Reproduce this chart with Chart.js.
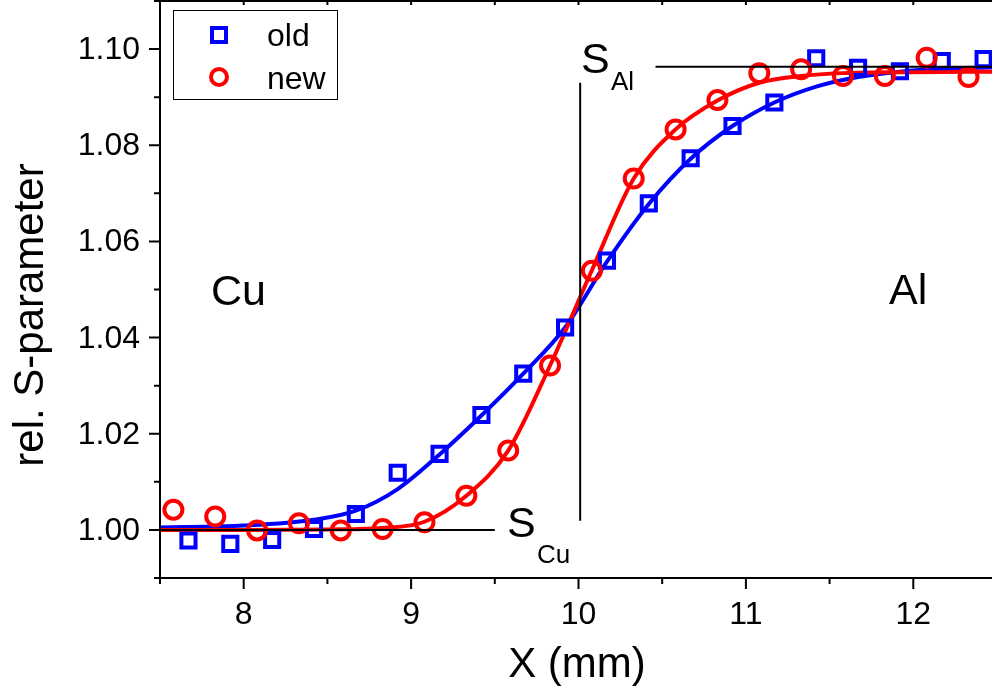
<!DOCTYPE html>
<html>
<head>
<meta charset="utf-8">
<title>rel. S-parameter vs X</title>
<script src="https://cdn.jsdelivr.net/npm/chart.js@4.4.0/dist/chart.umd.min.js"></script>
<style>
  html, body { margin: 0; padding: 0; background: #fff; overflow: hidden; }
  #wrap { width: 1010px; height: 693px; }
</style>
</head>
<body>
<div id="wrap"><canvas id="profile" width="1010" height="693"></canvas></div>
<script>
// measured points, old detector setup
const oldX = [7.67, 7.92, 8.17, 8.42, 8.67, 8.92, 9.17, 9.42, 9.67, 9.92,
              10.17, 10.42, 10.67, 10.92, 11.17, 11.42, 11.67, 11.92, 12.17, 12.42];
const oldS = [0.9978, 0.9971, 0.9979, 1.0002, 1.0033, 1.0119, 1.0158, 1.0239, 1.0325, 1.0421,
              1.0560, 1.0679, 1.0773, 1.0840, 1.0889, 1.0981, 1.0961, 1.0954, 1.0975, 1.0979];

// measured points, new setup
const newX = [7.58, 7.83, 8.08, 8.33, 8.58, 8.83, 9.08, 9.33, 9.58, 9.83,
              10.08, 10.33, 10.58, 10.83, 11.08, 11.33, 11.58, 11.83, 12.08, 12.33];
const newS = [1.0042, 1.0028, 0.9999, 1.0014, 0.9999, 1.0002, 1.0016, 1.0071, 1.0165, 1.0342,
              1.0539, 1.0731, 1.0833, 1.0894, 1.0950, 1.0958, 1.0944, 1.0944, 1.0982, 1.0942];

// fitted step profiles
const oldFitX = [7.5, 8.0, 8.42, 8.67, 8.92, 9.17, 9.42, 9.67, 9.92, 10.17,
                 10.42, 10.67, 10.92, 11.17, 11.42, 11.67, 11.92, 12.17, 12.5];
const oldFitS = [1.0005, 1.0009, 1.0021, 1.0040, 1.0085, 1.0157, 1.0238, 1.0325, 1.0421, 1.0558,
                 1.0678, 1.0772, 1.0840, 1.0889, 1.0922, 1.0942, 1.0953, 1.0959, 1.0962];
const newFitX = [7.5, 8.0, 8.5, 8.83, 9.08, 9.33, 9.58, 9.83, 10.08, 10.33,
                 10.58, 10.83, 11.08, 11.33, 11.58, 12.0, 12.5];
const newFitS = [1.0000, 1.0000, 1.0001, 1.0004, 1.0017, 1.0071, 1.0165, 1.0342, 1.0540, 1.0731,
                 1.0833, 1.0893, 1.0930, 1.0944, 1.0950, 1.0952, 1.0953];

// axis ticks
const xMajor = [8, 9, 10, 11, 12];
const xMinor = [7.5, 8.5, 9.5, 10.5, 11.5, 12.5];
const yMajor = [1.00, 1.02, 1.04, 1.06, 1.08, 1.10];
const yMinor = [0.99, 1.01, 1.03, 1.05, 1.07, 1.09, 1.11];

// reference levels and interface position
const sCu = 1.000;
const sAl = 1.0963;
const interfaceX = 10.01;

const BLUE = '#0000ff';
const RED = '#ff0000';
const FONT = '"Liberation Sans", Arial, Helvetica, sans-serif';

const pts = (xs, ys) => xs.map((x, i) => ({ x: x, y: ys[i] }));

function drawText(ctx, txt, x, y, size, align) {
  ctx.font = size + 'px ' + FONT;
  ctx.textAlign = align || 'left';
  ctx.textBaseline = 'alphabetic';
  ctx.fillText(txt, x, y);
}

// legend symbols, same look as the data markers
function legendSquare(ctx, x, y, side, color) {
  ctx.save();
  ctx.strokeStyle = color;
  ctx.lineWidth = 4;
  ctx.strokeRect(x - side / 2, y - side / 2, side, side);
  ctx.restore();
}

function legendCircle(ctx, x, y, r, color) {
  ctx.save();
  ctx.strokeStyle = color;
  ctx.lineWidth = 4;
  ctx.beginPath();
  ctx.arc(x, y, r, 0, Math.PI * 2);
  ctx.stroke();
  ctx.restore();
}

const framePlugin = {
  id: 'frame',
  afterDatasetsDraw(chart) {
    const { ctx, chartArea: a, scales: { x, y } } = chart;
    ctx.save();
    ctx.strokeStyle = '#000';
    ctx.lineWidth = 2;
    ctx.beginPath();
    // S_Cu level
    ctx.moveTo(a.left, y.getPixelForValue(sCu));
    ctx.lineTo(x.getPixelForValue(9.5), y.getPixelForValue(sCu));
    // S_Al level
    ctx.moveTo(x.getPixelForValue(10.46), y.getPixelForValue(sAl));
    ctx.lineTo(a.right, y.getPixelForValue(sAl));
    // interface
    ctx.moveTo(x.getPixelForValue(interfaceX), y.getPixelForValue(1.0930));
    ctx.lineTo(x.getPixelForValue(interfaceX), y.getPixelForValue(1.0019));
    ctx.stroke();
    ctx.restore();
  },
  afterDraw(chart) {
    const { ctx, chartArea: a, scales: { x, y } } = chart;
    ctx.save();
    ctx.strokeStyle = '#000';
    ctx.fillStyle = '#000';
    ctx.lineWidth = 2;

    // axis lines
    ctx.beginPath();
    ctx.moveTo(a.left, a.top);
    ctx.lineTo(a.left, a.bottom);
    ctx.lineTo(a.right, a.bottom);
    ctx.moveTo(a.left, a.top);
    ctx.lineTo(a.right, a.top);
    ctx.stroke();

    // tick marks
    ctx.beginPath();
    xMajor.forEach(v => {
      const px = x.getPixelForValue(v);
      ctx.moveTo(px, a.bottom); ctx.lineTo(px, a.bottom + 11);
      ctx.moveTo(px, a.top); ctx.lineTo(px, a.top + 4);
    });
    xMinor.forEach(v => {
      const px = x.getPixelForValue(v);
      ctx.moveTo(px, a.bottom); ctx.lineTo(px, a.bottom + 6);
      ctx.moveTo(px, a.top); ctx.lineTo(px, a.top + 4);
    });
    yMajor.forEach(v => {
      const py = y.getPixelForValue(v);
      ctx.moveTo(a.left, py); ctx.lineTo(a.left - 11, py);
    });
    yMinor.forEach(v => {
      const py = y.getPixelForValue(v);
      ctx.moveTo(a.left, py); ctx.lineTo(a.left - 6, py);
    });
    ctx.stroke();

    // tick labels
    xMajor.forEach(v => drawText(ctx, String(v), x.getPixelForValue(v), a.bottom + 46, 32, 'center'));
    yMajor.forEach(v => drawText(ctx, v.toFixed(2), a.left - 20, y.getPixelForValue(v) + 10, 32, 'right'));

    // axis titles
    drawText(ctx, 'X (mm)', 577, 677, 42, 'center');
    ctx.save();
    ctx.translate(43, 315);
    ctx.rotate(-Math.PI / 2);
    drawText(ctx, 'rel. S-parameter', 0, 0, 42, 'center');
    ctx.restore();

    // region and level labels
    drawText(ctx, 'Cu', 211, 305, 43);
    drawText(ctx, 'Al', 889, 304, 43);
    drawText(ctx, 'S', 507, 537, 43);
    drawText(ctx, 'Cu', 537, 563, 26);
    drawText(ctx, 'S', 581, 73, 43);
    drawText(ctx, 'Al', 611, 90, 26);

    // legend
    ctx.lineWidth = 1;
    ctx.strokeRect(173.5, 10.5, 164, 89);
    legendSquare(ctx, 219, 35, 14, BLUE);
    legendCircle(ctx, 219, 77, 8, RED);
    ctx.fillStyle = '#000';
    drawText(ctx, 'old', 267, 46, 32);
    drawText(ctx, 'new', 267, 89, 32);
    ctx.restore();
  }
};

Chart.defaults.font.family = FONT;
Chart.defaults.color = '#000';

new Chart(document.getElementById('profile'), {
  type: 'scatter',
  data: {
    datasets: [
      {
        label: 'new',
        data: pts(newX, newS),
        pointStyle: 'circle',
        pointRadius: 9,
        borderWidth: 4,
        borderColor: RED,
        backgroundColor: 'rgba(0,0,0,0)',
        showLine: false,
        clip: false,
        order: 0
      },
      {
        label: 'old',
        data: pts(oldX, oldS),
        pointStyle: 'rect',
        pointRadius: 10,
        borderWidth: 4,
        borderColor: BLUE,
        backgroundColor: 'rgba(0,0,0,0)',
        showLine: false,
        clip: false,
        order: 1
      },
      {
        label: 'new fit',
        data: pts(newFitX, newFitS),
        showLine: true,
        pointRadius: 0,
        borderWidth: 4,
        borderColor: RED,
        cubicInterpolationMode: 'monotone',
        order: 2
      },
      {
        label: 'old fit',
        data: pts(oldFitX, oldFitS),
        showLine: true,
        pointRadius: 0,
        borderWidth: 4,
        borderColor: BLUE,
        cubicInterpolationMode: 'monotone',
        order: 3
      }
    ]
  },
  options: {
    responsive: false,
    animation: false,
    devicePixelRatio: 1,
    layout: { autoPadding: false, padding: { left: 0, top: 1, right: 13, bottom: 0 } },
    plugins: {
      legend: { display: false },
      tooltip: { enabled: false }
    },
    scales: {
      x: {
        type: 'linear',
        min: 7.5,
        max: 12.5,
        border: { display: false },
        grid: { display: false },
        ticks: { display: false },
        afterFit: s => { s.height = 115; }
      },
      y: {
        type: 'linear',
        min: 0.99,
        max: 1.11,
        border: { display: false },
        grid: { display: false },
        ticks: { display: false },
        afterFit: s => { s.width = 160; }
      }
    }
  },
  plugins: [framePlugin]
});
</script>
</body>
</html>
